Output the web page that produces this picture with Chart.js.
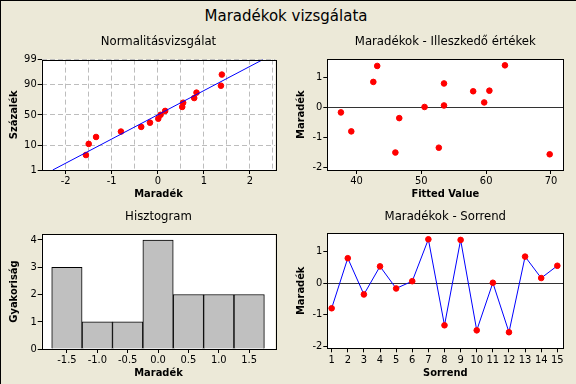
<!DOCTYPE html>
<html>
<head>
<meta charset="utf-8">
<script src="https://cdn.jsdelivr.net/npm/chart.js@4/dist/chart.umd.min.js"></script>
<style>
  html, body { margin: 0; padding: 0; }
  body { width: 576px; height: 384px; background: #ECE9D8; overflow: hidden; }
  #wrap { position: relative; width: 575px; height: 383px; border-top: 1px solid #000; border-left: 1px solid #000; }
  #main-title { position: absolute; left: 0; top: 6px; width: 570px; text-align: center;
    font: 15px "DejaVu Sans", sans-serif; color: #000; }
  canvas { position: absolute; }
</style>
</head>
<body>
<div id="wrap">
  <div id="main-title">Maradékok vizsgálata</div>
  <canvas id="normChart" width="290" height="175" style="left:-1px;top:29px"></canvas>
  <canvas id="fitChart" width="286" height="175" style="left:289px;top:29px"></canvas>
  <canvas id="histChart" width="290" height="179" style="left:-1px;top:204px"></canvas>
  <canvas id="orderChart" width="286" height="179" style="left:289px;top:204px"></canvas>
</div>
<script>
// residuals in observation order, and the fitted values that belong to them
const residuals = [-0.80, 0.79, -0.36, 0.53, -0.17, 0.06, 1.39, -1.34, 1.37, -1.50, 0.01, -1.56, 0.84, 0.16, 0.55];
const fittedValues = [39.2, 53.5, 46.6, 58.0, 37.6, 53.5, 62.9, 52.7, 43.2, 46.0, 50.5, 69.8, 42.6, 59.7, 60.5];
const orderLabels = [1, 2, 3, 4, 5, 6, 7, 8, 9, 10, 11, 12, 13, 14, 15];

// normal probability plot: percent for each sorted residual, fitted line ends
const percentRanks = [4.5, 11.0, 17.5, 24.0, 30.5, 37.0, 43.5, 50.0, 56.5, 63.0, 69.5, 76.0, 82.5, 89.0, 95.5];
const percentTicks = [1, 10, 50, 90, 99];
const fitLineX = [-2.28, 2.28];
const fitLineP = [1, 99];

// histogram
const binCenters = [-1.5, -1.0, -0.5, 0.0, 0.5, 1.0, 1.5];
const binCounts = [3, 1, 1, 4, 2, 2, 2];

const FONT = "'DejaVu Sans Condensed', 'DejaVu Sans', sans-serif";
Chart.defaults.font.family = FONT;
Chart.defaults.color = "#000";
Chart.defaults.animation = false;

// inverse normal cdf (Acklam)
function probit(p) {
  const a = [-39.69683028665376, 220.9460984245205, -275.9285104469687, 138.3577518672690, -30.66479806614716, 2.506628277459239];
  const b = [-54.47609879822406, 161.5858368580409, -155.6989798598866, 66.80131188771972, -13.28068155288572];
  const c = [-0.007784894002430293, -0.3223964580411365, -2.400758277161838, -2.549732539343734, 4.374664141464968, 2.938163982698783];
  const d = [0.007784695709041462, 0.3224671290700398, 2.445134137142996, 3.754408661907416];
  const pl = 0.02425;
  if (p < pl) {
    const q = Math.sqrt(-2 * Math.log(p));
    return (((((c[0] * q + c[1]) * q + c[2]) * q + c[3]) * q + c[4]) * q + c[5]) / ((((d[0] * q + d[1]) * q + d[2]) * q + d[3]) * q + 1);
  }
  if (p > 1 - pl) {
    const q = Math.sqrt(-2 * Math.log(1 - p));
    return -(((((c[0] * q + c[1]) * q + c[2]) * q + c[3]) * q + c[4]) * q + c[5]) / ((((d[0] * q + d[1]) * q + d[2]) * q + d[3]) * q + 1);
  }
  const q = p - 0.5, r = q * q;
  return (((((a[0] * r + a[1]) * r + a[2]) * r + a[3]) * r + a[4]) * r + a[5]) * q / (((((b[0] * r + b[1]) * r + b[2]) * r + b[3]) * r + b[4]) * r + 1);
}

// probability axis (percent values placed on a normal-quantile scale)
class ProbitScale extends Chart.Scale {
  determineDataLimits() {
    this.min = this.options.min;
    this.max = this.options.max;
  }
  buildTicks() {
    return percentTicks.map((v) => ({ value: v }));
  }
  getLabelForValue(v) {
    return String(v);
  }
  getPixelForValue(v) {
    const z0 = probit(this.min / 100), z1 = probit(this.max / 100);
    return this.getPixelForDecimal((probit(v / 100) - z0) / (z1 - z0));
  }
  getValueForPixel(px) {
    return null;
  }
}
ProbitScale.id = "probit";
ProbitScale.defaults = {};
Chart.register(ProbitScale);

// white plot area with a black frame
const boxPlugin = {
  id: "box",
  beforeDraw(chart) {
    const { ctx, chartArea: a } = chart;
    ctx.save();
    ctx.fillStyle = "#fff";
    ctx.fillRect(a.left, a.top, a.width, a.height);
    ctx.restore();
  },
  afterDraw(chart) {
    const { ctx, chartArea: a } = chart;
    ctx.save();
    ctx.strokeStyle = "#000";
    ctx.lineWidth = 1;
    ctx.strokeRect(Math.round(a.left) + 0.5, Math.round(a.top) + 0.5, Math.round(a.width), Math.round(a.height));
    ctx.restore();
  },
};

const tickFont = { size: 11 };
const axisTitleFont = { size: 11, weight: "bold" };

function baseOptions(title, padRight, titlePadBottom) {
  return {
    responsive: false,
    layout: { padding: { left: 0, right: padRight, top: 0, bottom: 0 } },
    plugins: {
      legend: { display: false },
      tooltip: { enabled: false },
      title: {
        display: true,
        text: title,
        fullSize: false,
        font: { size: 13, weight: "normal" },
        color: "#000",
        padding: { top: 4, bottom: titlePadBottom },
      },
    },
  };
}

function xAxis(label, height, extra) {
  return Object.assign({
    type: "linear",
    afterFit: (s) => { s.height = height; },
    border: { display: false },
    grid: { drawOnChartArea: false, tickLength: 4, tickColor: "#000" },
    ticks: { font: tickFont, padding: 1, maxRotation: 0, includeBounds: false },
    title: { display: true, text: label, font: axisTitleFont, padding: { top: 0, bottom: 4 } },
  }, extra);
}

function yAxis(label, width, titlePad, extra) {
  return Object.assign({
    type: "linear",
    afterFit: (s) => { s.width = width; },
    border: { display: false },
    grid: { drawOnChartArea: false, tickLength: 4, tickColor: "#000" },
    ticks: { font: tickFont, padding: 1, includeBounds: false },
    title: { display: true, text: label, font: axisTitleFont, padding: { top: titlePad, bottom: 0 } },
  }, extra);
}

const zeroLine = {
  drawOnChartArea: true,
  tickLength: 4,
  tickColor: "#000",
  color: (c) => (c.tick && c.tick.value === 0 ? "#333" : "rgba(0,0,0,0)"),
};

// 1. Normal probability plot
const sortedResiduals = residuals.slice().sort((a, b) => a - b);
const normOpts = baseOptions("Normalitásvizsgálat", 14.7, 10);
normOpts.scales = {
  x: xAxis("Maradék", 35, {
    min: -2.52, max: 2.55,
    grid: {
      drawOnChartArea: true,
      tickLength: 4,
      color: "#BDBDBD",
      tickColor: (c) => (c.tick && Number.isInteger(c.tick.value) ? "#000" : "rgba(0,0,0,0)"),
    },
    border: { display: false, dash: [5, 3] },
    ticks: {
      font: tickFont, padding: 1, maxRotation: 0, includeBounds: false, stepSize: 0.5,
      callback: (v) => (Number.isInteger(v) ? String(v) : ""),
    },
  }),
  y: yAxis("Százalék", 41.7, 7.4, {
    type: "probit",
    min: 1, max: 99,
    grid: { drawOnChartArea: true, tickLength: 4, color: "#BDBDBD", tickColor: "#000" },
    border: { display: false, dash: [5, 3] },
  }),
};
new Chart(document.getElementById("normChart"), {
  type: "scatter",
  data: {
    datasets: [
      {
        data: fitLineX.map((x, i) => ({ x: x, y: fitLineP[i] })),
        showLine: true,
        borderColor: "#0000FF",
        borderWidth: 1,
        pointRadius: 0,
      },
      {
        data: sortedResiduals.map((r, i) => ({ x: r, y: percentRanks[i] })),
        backgroundColor: "#FF0000",
        borderColor: "#FF0000",
        pointRadius: 2.8,
      },
    ],
  },
  options: normOpts,
  plugins: [boxPlugin],
});

// 2. Residuals vs fitted values
const fitOpts = baseOptions("Maradékok - Illeszkedő értékek", 12.7, 9.7);
fitOpts.scales = {
  x: xAxis("Fitted Value", 35, { min: 35.5, max: 71.9, ticks: { font: tickFont, padding: 1, maxRotation: 0, includeBounds: false, stepSize: 10 } }),
  y: yAxis("Maradék", 37.3, 4.4, { min: -2.08, max: 1.59, grid: zeroLine, ticks: { font: tickFont, padding: 1, includeBounds: false, stepSize: 1 } }),
};
new Chart(document.getElementById("fitChart"), {
  type: "scatter",
  data: {
    datasets: [{
      data: fittedValues.map((f, i) => ({ x: f, y: residuals[i] })),
      backgroundColor: "#FF0000",
      borderColor: "#FF0000",
      pointRadius: 2.8,
    }],
  },
  options: fitOpts,
  plugins: [boxPlugin],
});

// 3. Histogram
const histOpts = baseOptions("Hisztogram", 14.7, 9.4);
histOpts.scales = {
  x: xAxis("Maradék", 35, {
    min: -1.915, max: 1.93, offset: false,
    grid: { drawOnChartArea: false, offset: false, tickLength: 4, tickColor: "#000" },
    ticks: { font: tickFont, padding: 1, maxRotation: 0, includeBounds: false, stepSize: 0.5, callback: (v) => v.toFixed(1) },
  }),
  y: yAxis("Gyakoriság", 41.7, 7.4, { min: 0, max: 4.22, ticks: { font: tickFont, padding: 1, includeBounds: false, stepSize: 1 } }),
};
new Chart(document.getElementById("histChart"), {
  type: "bar",
  data: {
    datasets: [{
      data: binCenters.map((b, i) => ({ x: b, y: binCounts[i] })),
      backgroundColor: "#C0C0C0",
      borderColor: "#000",
      borderWidth: 1,
      barPercentage: 1,
      categoryPercentage: 1,
    }],
  },
  options: histOpts,
  plugins: [boxPlugin],
});

// 4. Residuals vs order
const orderOpts = baseOptions("Maradékok - Sorrend", 12.7, 8.7);
orderOpts.scales = {
  x: xAxis("Sorrend", 35.7, { min: 0.73, max: 15.37, ticks: { font: tickFont, padding: 1, maxRotation: 0, includeBounds: false, stepSize: 1, autoSkip: false } }),
  y: yAxis("Maradék", 37.3, 4.4, { min: -2.07, max: 1.58, grid: zeroLine, ticks: { font: tickFont, padding: 1, includeBounds: false, stepSize: 1 } }),
};
new Chart(document.getElementById("orderChart"), {
  type: "line",
  data: {
    datasets: [{
      data: orderLabels.map((o, i) => ({ x: o, y: residuals[i] })),
      borderColor: "#0000FF",
      borderWidth: 1,
      tension: 0,
      pointBackgroundColor: "#FF0000",
      pointBorderColor: "#FF0000",
      pointRadius: 2.8,
    }],
  },
  options: orderOpts,
  plugins: [boxPlugin],
});
</script>
</body>
</html>
